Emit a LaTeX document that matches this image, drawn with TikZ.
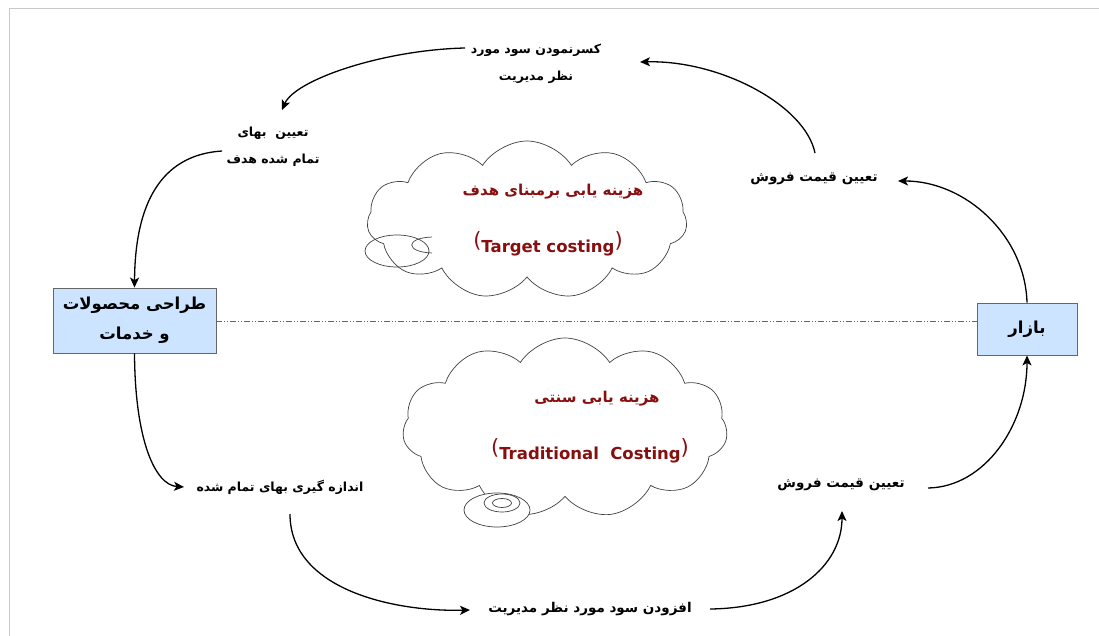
\documentclass[tikz,border=0pt]{standalone}
\usepackage{fontspec}
\setmainfont{DejaVu Sans}
\newfontfamily\ar[Script=Arabic]{DejaVu Sans}
\TeXXeTstate=1
\usetikzlibrary{shapes.symbols,arrows.meta}
\definecolor{boxblue}{RGB}{204,228,255}
\definecolor{dred}{RGB}{135,15,15}
\definecolor{frame}{RGB}{200,200,200}
\newcommand{\lpar}{\raisebox{5pt}{\mdseries\fontsize{21}{21}\selectfont(}}
\newcommand{\rpar}{\raisebox{5pt}{\mdseries\fontsize{21}{21}\selectfont)}}
\tikzset{
  lbl/.style={font=\ar\bfseries\fontsize{12.5}{27}\selectfont, align=center, inner sep=1pt},
  lblbig/.style={font=\ar\bfseries\fontsize{13.5}{27}\selectfont, align=center, inner sep=1pt},
  boxnode/.style={draw=black!60, fill=boxblue, line width=0.9pt, align=center, inner sep=0pt, font=\ar\bfseries\fontsize{16.5}{30}\selectfont},
  cloudnode/.style={cloud, draw=black!75, line width=0.7pt, cloud puffs=11, cloud puff arc=115, inner sep=0pt},
  ctitle/.style={font=\ar\bfseries\fontsize{15}{18}\selectfont, text=dred},
  clatin/.style={font=\bfseries\fontsize{16.5}{18}\selectfont, text=dred},
  arr/.style={-{Stealth[length=10pt,width=9pt,inset=2.5pt]}, line width=1.3pt},
  bubble/.style={draw=black!75, line width=0.7pt},
}
\begin{document}
\begin{tikzpicture}[x=1pt,y=-1pt]
\useasboundingbox (0,0) rectangle (1099,636);
% frame
\draw[frame, line width=1pt] (9,636) -- (9,9) -- (1099,9);

% clouds
\node[cloudnode, minimum width=320pt, minimum height=158pt] (tc) at (527,220) {};
\node[cloudnode, minimum width=325pt, minimum height=180pt] (bc) at (565,428) {};
% bubbles top cloud
\draw[bubble] (397,251) ellipse [x radius=32, y radius=16];
\draw[bubble] (432,237) .. controls (405,238) and (405,252) .. (432,253);
% bubbles bottom cloud
\draw[bubble, fill=white] (497,510) ellipse [x radius=33, y radius=17];
\draw[bubble] (502,503) ellipse [x radius=18, y radius=9];
\draw[bubble] (502,503) ellipse [x radius=9.5, y radius=4.5];

% cloud texts
\node[ctitle] (t1) at (553,192) {\beginR هزینه یابی برمبنای هدف\endR};
\node[clatin] (t2) at (548,244) {\lpar Target costing\rpar};
\node[ctitle] (b1) at (597,399) {\beginR هزینه یابی سنتی\endR};
\node[clatin] (b2) at (590,451) {\lpar Traditional\ \ Costing\rpar};

% boxes
\node[boxnode, minimum width=163pt, minimum height=65pt] (design) at (134.5,320.5)
  {\beginR طراحی محصولات\endR\\\beginR و خدمات\endR};
\node[boxnode, minimum width=100pt, minimum height=52pt] (market) at (1027,329)
  {\beginR بازار\endR};
\draw[black!60, line width=0.6pt, dash pattern=on 6pt off 2pt on 1pt off 2pt on 1pt off 2pt] (design.east |- 0,321) -- (market.west |- 0,321);

% labels
\node[lbl] (kasr) at (536,64) {\beginR کسرنمودن سود مورد\endR\\\beginR نظر مدیریت\endR};
\node[lbl] (tayin) at (273,147) {\beginR تعیین\ \ بهای\endR\\\beginR تمام شده هدف\endR};
\node[lblbig] (sell1) at (814,179) {\beginR تعیین قیمت فروش\endR};
\node[lbl] (measure) at (280,487) {\beginR اندازه گیری بهای تمام شده\endR};
\node[lblbig] (sell2) at (841,485) {\beginR تعیین قیمت فروش\endR};
\node[lblbig] (add) at (590,609) {\beginR افزودن سود مورد نظر مدیریت\endR};

% arrows
\coordinate (a1e) at (898,181);
\coordinate (a2s) at (815,153);
\coordinate (a2e) at (640,62);
\coordinate (a3s) at (465,48);
\coordinate (a3e) at (282,110);
\coordinate (a4s) at (222,151);
\coordinate (a5e) at (184,487);
\coordinate (a6s) at (290,514);
\coordinate (a6e) at (470,610);
\coordinate (a7s) at (710,609);
\coordinate (a7e) at (842,511);
\coordinate (a8s) at (928,488);

\draw[arr] (market.north) .. controls (1025,235) and (965,181) .. (a1e);
\draw[arr] (a2s) .. controls (805,105) and (720,60) .. (a2e);
\draw[arr] (a3s) .. controls (382,50) and (295,80) .. (a3e);
\draw[arr] (a4s) .. controls (160,155) and (135,205) .. (design.north);
\draw[arr] (design.south) .. controls (135,440) and (155,485) .. (a5e);
\draw[arr] (a6s) .. controls (290,590) and (395,612) .. (a6e);
\draw[arr] (a7s) .. controls (795,608) and (842,565) .. (a7e);
\draw[arr] (a8s) .. controls (985,487) and (1027,425) .. (market.south);
\end{tikzpicture}
\end{document}
